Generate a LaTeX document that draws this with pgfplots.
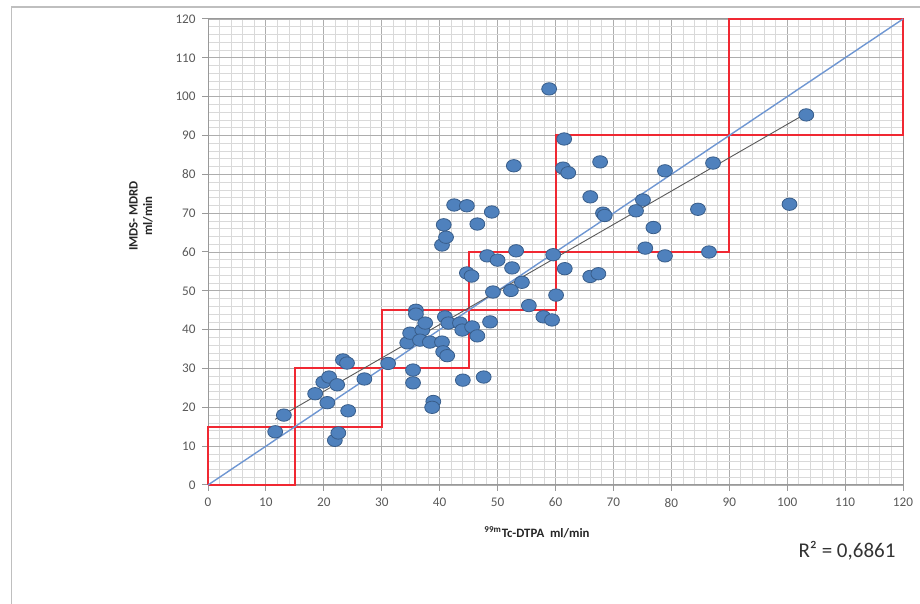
\documentclass[border=0pt]{standalone}
\usepackage{fontspec}
\setmainfont{Carlito}
\usepackage{pgfplots}
\pgfplotsset{compat=1.18}
\definecolor{ptfill}{RGB}{79,129,189}
\definecolor{ptdraw}{RGB}{56,93,138}
\definecolor{idline}{RGB}{110,150,210}
\definecolor{boxred}{RGB}{240,40,50}
\definecolor{ticktxt}{RGB}{89,89,89}
\begin{document}
\begin{tikzpicture}
\path[use as bounding box] (0,0) rectangle (460pt,302pt);
\draw[black!25, line width=0.9pt] (5.75pt,0) -- (5.75pt,298.5pt) -- (460pt,298.5pt);
\begin{axis}[
  scale only axis,
  width=347.5pt, height=233pt,
  at={(104pt,59.5pt)}, anchor=south west,
  xmin=0, xmax=120, ymin=0, ymax=120,
  xtick distance=10, ytick distance=10,
  minor tick num=4,
  grid=both,
  major grid style={black!32, line width=0.45pt},
  minor grid style={black!15, line width=0.35pt},
  axis line style={black!40, line width=0.5pt},
  tick align=outside,
  tick pos=left,
  major tick length=3pt,
  minor tick length=0pt,
  tick style={black!40, line width=0.5pt},
  /pgf/number format/assume math mode=true,
  ticklabel style={font=\fontsize{6.6pt}{7pt}\selectfont, text=ticktxt},
  yticklabel style={xshift=-1pt},
  yticklabel style={inner sep=2pt},
  clip=false,
]
% red boxes
\addplot[boxred, line width=1pt, no marks] coordinates {(0,0) (15,0) (15,15) (0,15) (0,0)};
\addplot[boxred, line width=1pt, no marks] coordinates {(15,15) (30,15) (30,30) (15,30) (15,15)};
\addplot[boxred, line width=1pt, no marks] coordinates {(30,30) (45,30) (45,45) (30,45) (30,30)};
\addplot[boxred, line width=1pt, no marks] coordinates {(45,45) (60,45) (60,60) (45,60) (45,45)};
\addplot[boxred, line width=1pt, no marks] coordinates {(60,60) (90,60) (90,90) (60,90) (60,60)};
\addplot[boxred, line width=1pt, no marks] coordinates {(90,90) (120,90) (120,120) (90,120) (90,90)};
% identity line
\addplot[idline, line width=0.7pt, no marks] coordinates {(0,0) (120,120)};
% trend line
\addplot[black!65, line width=0.45pt, no marks] coordinates {(11.6,16.9) (103.3,95.7)};
% data
\addplot[only marks, mark=*, mark size=3.1pt,
  mark options={fill=ptfill, draw=ptdraw, line width=0.4pt, xscale=1.2}]
coordinates {
(11.6,13.7) (13.1,18.0) (18.5,23.5) (19.9,26.5) (20.9,27.8) (22.3,25.8)
(20.6,21.2) (21.9,11.5) (22.5,13.4) (23.3,32.2) (24.0,31.4) (24.2,19.1)
(27.0,27.3) (31.1,31.3) (35.4,29.6) (35.4,26.3) (34.4,36.6) (34.9,39.1)
(35.9,45.0) (35.9,44.0) (37.0,39.9) (37.5,41.7) (36.6,37.3) (38.3,36.8)
(40.4,36.8) (40.6,34.3) (41.3,33.3) (40.9,43.3) (41.5,41.7) (43.5,41.7)
(43.9,39.9) (45.6,40.7) (46.5,38.4) (48.7,42.0) (38.9,21.5) (38.7,20.0)
(44.0,27.0) (47.6,27.8) (40.4,61.8) (41.1,63.8) (40.7,67.0) (42.5,72.1)
(44.7,71.9) (49.0,70.3) (46.5,67.2) (44.7,54.6) (45.5,53.8) (48.2,59.0)
(50.0,57.9) (53.2,60.3) (52.5,55.9) (49.2,49.7) (52.3,50.1) (54.2,52.2)
(55.4,46.2) (57.9,43.3) (59.4,42.5) (60.1,48.9) (59.6,59.3) (61.6,55.7)
(52.8,82.2) (58.9,102.0) (61.5,89.1) (61.3,81.6) (62.2,80.4) (67.7,83.2)
(66.0,74.2) (68.2,70.0) (68.5,69.4) (66.0,53.7) (67.4,54.4) (73.9,70.6)
(75.1,73.4) (76.9,66.3) (75.5,61.0) (78.9,59.0) (78.9,80.9) (84.6,71.0)
(86.5,60.0) (87.2,82.9) (100.4,72.3) (103.3,95.3)
};
\end{axis}
\node[rotate=90, align=center, font=\bfseries\fontsize{6.4pt}{7.2pt}\selectfont, text=black!85]
  at (70.5pt,194pt) {IMDS- MDRD\\ml/min};
\node[font=\bfseries\fontsize{6.4pt}{7pt}\selectfont, text=black!85]
  at (268.5pt,36pt) {\textsuperscript{99m}Tc-DTPA\ \ ml/min};
\node[font=\fontsize{10.5pt}{12pt}\selectfont, text=black!80]
  at (423.5pt,26.5pt) {R² = 0,6861};
\end{tikzpicture}
\end{document}
